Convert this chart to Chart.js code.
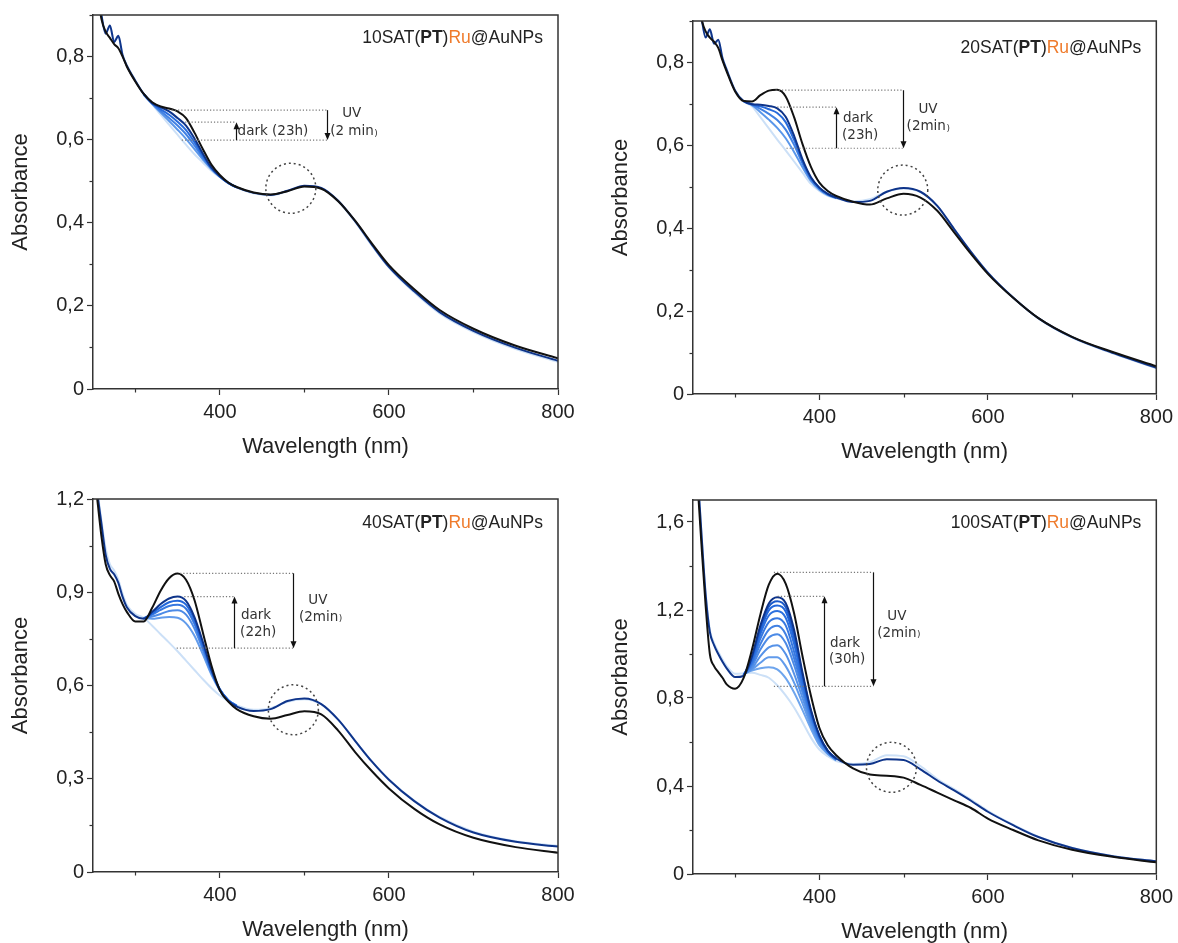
<!DOCTYPE html>
<html>
<head>
<meta charset="utf-8">
<script src="https://cdn.jsdelivr.net/npm/chart.js@4.4.1/dist/chart.umd.min.js"></script>
<style>
  html, body { margin: 0; padding: 0; background: #fff; }
  #wrap { position: relative; width: 1178px; height: 943px; }
  canvas { position: absolute; }
</style>
</head>
<body>
<div id="wrap">
  <canvas id="c10" width="589" height="470" style="left:0;top:0"></canvas>
  <canvas id="c20" width="589" height="470" style="left:589px;top:0"></canvas>
  <canvas id="c40" width="589" height="473" style="left:0;top:470px"></canvas>
  <canvas id="c100" width="589" height="473" style="left:589px;top:470px"></canvas>
</div>
<script>
// wavelength grids (nm)
const wavelengths = [255, 260, 265, 270, 275, 280, 285, 290, 300, 310, 320, 330, 340, 350, 360, 370, 380, 390, 400, 410, 420, 440, 460, 480, 500, 520, 540, 560, 580, 600, 630, 660, 700, 750, 800];
const midWavelengths = [310, 320, 330, 340, 350, 360, 370, 380, 390, 400, 410, 420];

// 10SAT(PT)Ru@AuNPs
const sat10Black = [0.96, 0.89, 0.86, 0.845, 0.83, 0.82, 0.80, 0.776, 0.74, 0.71, 0.69, 0.68, 0.675, 0.668, 0.652, 0.617, 0.577, 0.54, 0.515, 0.497, 0.486, 0.473, 0.468, 0.476, 0.487, 0.482, 0.452, 0.405, 0.35, 0.298, 0.24, 0.19, 0.145, 0.104, 0.074];
const sat10Dark = [0.97, 0.9, 0.855, 0.875, 0.835, 0.85, 0.803, 0.778, 0.742, 0.71, 0.688, 0.678, 0.668, 0.652, 0.634, 0.603, 0.566, 0.533, 0.512, 0.496, 0.485, 0.472, 0.467, 0.477, 0.489, 0.484, 0.453, 0.404, 0.347, 0.294, 0.235, 0.185, 0.14, 0.099, 0.068];
const sat10Light = [0.97, 0.9, 0.86, 0.87, 0.84, 0.845, 0.805, 0.78, 0.743, 0.708, 0.685, 0.66, 0.636, 0.612, 0.588, 0.565, 0.545, 0.525, 0.51, 0.495, 0.485, 0.471, 0.466, 0.476, 0.488, 0.483, 0.452, 0.402, 0.345, 0.292, 0.232, 0.182, 0.137, 0.096, 0.065];
const sat10Recovery = [
  [0.708, 0.686, 0.665, 0.645, 0.624, 0.602, 0.577, 0.552, 0.529, 0.511, 0.496, 0.485],
  [0.709, 0.687, 0.669, 0.652, 0.634, 0.613, 0.586, 0.557, 0.531, 0.511, 0.496, 0.485],
  [0.71, 0.688, 0.673, 0.66, 0.643, 0.623, 0.594, 0.561, 0.532, 0.512, 0.496, 0.485]
];

// 20SAT(PT)Ru@AuNPs
const sat20Black = [0.97, 0.905, 0.875, 0.86, 0.85, 0.835, 0.805, 0.778, 0.73, 0.707, 0.706, 0.721, 0.732, 0.734, 0.718, 0.668, 0.603, 0.548, 0.51, 0.49, 0.478, 0.464, 0.457, 0.472, 0.483, 0.474, 0.442, 0.39, 0.338, 0.29, 0.232, 0.183, 0.138, 0.1, 0.067];
const sat20Dark = [0.98, 0.91, 0.86, 0.88, 0.845, 0.855, 0.81, 0.782, 0.732, 0.707, 0.699, 0.698, 0.695, 0.689, 0.669, 0.623, 0.566, 0.523, 0.498, 0.483, 0.474, 0.463, 0.466, 0.488, 0.497, 0.488, 0.454, 0.398, 0.343, 0.293, 0.233, 0.183, 0.137, 0.098, 0.063];
const sat20Light = [0.98, 0.91, 0.865, 0.875, 0.85, 0.85, 0.812, 0.784, 0.733, 0.706, 0.694, 0.668, 0.641, 0.614, 0.588, 0.561, 0.534, 0.507, 0.49, 0.478, 0.472, 0.465, 0.47, 0.488, 0.496, 0.487, 0.453, 0.397, 0.342, 0.292, 0.232, 0.182, 0.136, 0.097, 0.062];
const sat20Recovery = [
  [0.706, 0.697, 0.68, 0.662, 0.642, 0.617, 0.584, 0.547, 0.514, 0.493, 0.48, 0.473],
  [0.707, 0.698, 0.688, 0.676, 0.661, 0.638, 0.601, 0.556, 0.518, 0.495, 0.481, 0.473],
  [0.707, 0.699, 0.694, 0.687, 0.678, 0.656, 0.613, 0.561, 0.521, 0.497, 0.482, 0.474]
];

// 40SAT(PT)Ru@AuNPs
const sat40Black = [1.2, 1.08, 0.99, 0.955, 0.935, 0.895, 0.862, 0.837, 0.806, 0.806, 0.85, 0.905, 0.945, 0.96, 0.94, 0.875, 0.77, 0.665, 0.585, 0.548, 0.524, 0.501, 0.493, 0.505, 0.517, 0.507, 0.455, 0.386, 0.324, 0.269, 0.203, 0.153, 0.11, 0.08, 0.062];
const sat40Dark = [1.22, 1.12, 1.02, 0.975, 0.958, 0.93, 0.885, 0.852, 0.823, 0.815, 0.837, 0.862, 0.88, 0.886, 0.872, 0.82, 0.74, 0.652, 0.585, 0.55, 0.532, 0.518, 0.524, 0.55, 0.558, 0.54, 0.49, 0.422, 0.355, 0.297, 0.228, 0.175, 0.127, 0.097, 0.082];
const sat40Light = [1.23, 1.13, 1.04, 0.99, 0.97, 0.94, 0.895, 0.86, 0.83, 0.818, 0.792, 0.765, 0.738, 0.71, 0.68, 0.65, 0.62, 0.592, 0.568, 0.55, 0.536, 0.522, 0.527, 0.548, 0.556, 0.539, 0.49, 0.422, 0.355, 0.298, 0.23, 0.177, 0.13, 0.099, 0.084];
const sat40Recovery = [
  [0.817, 0.815, 0.818, 0.82, 0.818, 0.8, 0.76, 0.7, 0.635, 0.585, 0.552, 0.534],
  [0.817, 0.822, 0.83, 0.84, 0.842, 0.828, 0.783, 0.714, 0.642, 0.587, 0.553, 0.534],
  [0.816, 0.828, 0.843, 0.856, 0.86, 0.847, 0.798, 0.723, 0.647, 0.588, 0.553, 0.534],
  [0.816, 0.832, 0.852, 0.868, 0.873, 0.86, 0.81, 0.73, 0.651, 0.588, 0.553, 0.534]
];

// 100SAT(PT)Ru@AuNPs
const sat100Black = [1.8, 1.5, 1.22, 1.0, 0.945, 0.918, 0.892, 0.862, 0.842, 0.89, 1.02, 1.18, 1.315, 1.365, 1.32, 1.185, 0.99, 0.81, 0.665, 0.585, 0.54, 0.48, 0.452, 0.447, 0.438, 0.405, 0.37, 0.335, 0.3, 0.252, 0.2, 0.153, 0.11, 0.077, 0.053];
const sat100Dark = [1.85, 1.55, 1.27, 1.1, 1.04, 1.0, 0.965, 0.935, 0.895, 0.9, 0.99, 1.13, 1.23, 1.258, 1.232, 1.11, 0.915, 0.745, 0.63, 0.56, 0.525, 0.497, 0.5, 0.522, 0.518, 0.476, 0.425, 0.38, 0.333, 0.283, 0.222, 0.168, 0.118, 0.08, 0.058];
const sat100Light = [1.85, 1.55, 1.28, 1.11, 1.05, 1.01, 0.975, 0.945, 0.91, 0.912, 0.915, 0.905, 0.892, 0.858, 0.812, 0.757, 0.69, 0.62, 0.566, 0.535, 0.513, 0.5, 0.508, 0.54, 0.535, 0.49, 0.432, 0.386, 0.338, 0.287, 0.224, 0.17, 0.12, 0.081, 0.058];
const sat100Recovery = [
  [0.91, 0.925, 0.935, 0.94, 0.93, 0.89, 0.825, 0.745, 0.66, 0.585, 0.545, 0.516],
  [0.908, 0.93, 0.96, 0.985, 0.985, 0.945, 0.87, 0.775, 0.675, 0.595, 0.548, 0.518],
  [0.907, 0.935, 0.99, 1.03, 1.04, 1.0, 0.91, 0.8, 0.69, 0.603, 0.55, 0.519],
  [0.906, 0.945, 1.02, 1.075, 1.09, 1.05, 0.95, 0.825, 0.703, 0.61, 0.553, 0.52],
  [0.905, 0.955, 1.045, 1.11, 1.128, 1.09, 0.98, 0.845, 0.714, 0.615, 0.555, 0.521],
  [0.904, 0.962, 1.07, 1.145, 1.163, 1.13, 1.01, 0.86, 0.722, 0.62, 0.557, 0.522],
  [0.903, 0.97, 1.09, 1.175, 1.195, 1.165, 1.045, 0.878, 0.73, 0.623, 0.558, 0.523],
  [0.902, 0.978, 1.105, 1.198, 1.22, 1.193, 1.07, 0.893, 0.736, 0.626, 0.559, 0.524],
  [0.901, 0.985, 1.118, 1.215, 1.24, 1.213, 1.09, 0.905, 0.741, 0.628, 0.56, 0.524]
];

// annotation marks, in data units (nm, absorbance)
const ann10 = {
  lines: [[343, 527, 0.671], [359, 419, 0.642], [355, 527, 0.599]],
  arrows: [[419, 0.599, 0.642], [527, 0.671, 0.599]],
  texts: [
    { t: 'dark (23h)', x: 421, y: 0.619, align: 'left' },
    { t: 'UV', x: 556, y: 0.663, align: 'center' },
    { t: '(2 min', x: 530.5, y: 0.619, align: 'left', paren: true }
  ],
  circle: [484, 0.483]
};
const ann20 = {
  lines: [[348, 499, 0.733], [350, 420, 0.692], [361, 499, 0.593]],
  arrows: [[420, 0.593, 0.692], [499, 0.733, 0.593]],
  texts: [
    { t: 'dark', x: 428, y: 0.665, align: 'left' },
    { t: '(23h)', x: 427, y: 0.624, align: 'left' },
    { t: 'UV', x: 529, y: 0.686, align: 'center' },
    { t: '(2min', x: 529, y: 0.645, align: 'center', paren: true }
  ],
  circle: [499, 0.492]
};
const ann40 = {
  lines: [[353, 486.5, 0.961], [358, 417, 0.886], [349, 486.5, 0.72]],
  arrows: [[417, 0.72, 0.886], [486.5, 0.961, 0.72]],
  texts: [
    { t: 'dark', x: 425, y: 0.825, align: 'left' },
    { t: '(22h)', x: 424, y: 0.772, align: 'left' },
    { t: 'UV', x: 516, y: 0.873, align: 'center' },
    { t: '(2min', x: 519, y: 0.82, align: 'center', paren: true }
  ],
  circle: [487, 0.522]
};
const ann100 = {
  lines: [[346, 464, 1.371], [350.5, 406, 1.262], [346, 464, 0.853]],
  arrows: [[406, 0.853, 1.262], [464, 1.371, 0.853]],
  texts: [
    { t: 'dark', x: 412.5, y: 1.05, align: 'left' },
    { t: '(30h)', x: 411.5, y: 0.974, align: 'left' },
    { t: 'UV', x: 492, y: 1.171, align: 'center' },
    { t: '(2min', x: 494, y: 1.095, align: 'center', paren: true }
  ],
  circle: [485.6, 0.485]
};

const AXIS_COLOR = '#333';
const TEXT_COLOR = '#222';
const SANS = '"Liberation Sans", Arial, sans-serif';

function blueShade(t) {
  // 0 = palest, 1 = deepest navy
  const stops = [
    [0, [204, 224, 247]],
    [0.4, [100, 158, 236]],
    [0.8, [30, 100, 218]],
    [1, [14, 52, 138]]
  ];
  let k = 0;
  while (k < stops.length - 2 && t > stops[k + 1][0]) k++;
  const [t0, a] = stops[k], [t1, b] = stops[k + 1];
  const f = (t - t0) / (t1 - t0);
  const c = a.map((v, i) => Math.round(v + (b[i] - v) * f));
  return 'rgb(' + c.join(',') + ')';
}

function toPoints(xs, ys) {
  return xs.map((x, i) => ({ x: x, y: ys[i] }));
}

function isMajor(v, step) {
  const q = v / step;
  return Math.abs(q - Math.round(q)) < 1e-6;
}

function fmtComma(v) {
  if (Math.abs(v) < 1e-9) return '0';
  return v.toFixed(1).replace('.', ',');
}

function drawArrowHead(ctx, x, y, dir) {
  ctx.beginPath();
  ctx.moveTo(x, y);
  ctx.lineTo(x - 3, y - dir * 7);
  ctx.lineTo(x + 3, y - dir * 7);
  ctx.closePath();
  ctx.fill();
}

function makeDecor(p) {
  return {
    id: 'decor',
    afterDraw(chart) {
      const ctx = chart.ctx;
      const a = chart.chartArea;
      const xs = chart.scales.x, ys = chart.scales.y;
      ctx.save();

      // top and right side of the frame
      ctx.strokeStyle = AXIS_COLOR;
      ctx.lineWidth = 1.5;
      ctx.beginPath();
      ctx.moveTo(a.left, a.top);
      ctx.lineTo(a.right, a.top);
      ctx.lineTo(a.right, a.bottom);
      ctx.stroke();

      // minor ticks (short)
      ctx.lineWidth = 1.2;
      ys.ticks.forEach(tk => {
        if (isMajor(tk.value, p.yMajor)) return;
        const py = Math.round(ys.getPixelForValue(tk.value)) + 0.5;
        ctx.beginPath(); ctx.moveTo(a.left - 3.5, py); ctx.lineTo(a.left, py); ctx.stroke();
      });
      xs.ticks.forEach(tk => {
        if (isMajor(tk.value, 200)) return;
        const px = Math.round(xs.getPixelForValue(tk.value)) + 0.5;
        ctx.beginPath(); ctx.moveTo(px, a.bottom); ctx.lineTo(px, a.bottom + 3.5); ctx.stroke();
      });

      const ann = p.ann;
      // dotted guide lines
      ctx.strokeStyle = '#777';
      ctx.lineWidth = 1.2;
      ctx.setLineDash([1.2, 2]);
      ann.lines.forEach(l => {
        const py = ys.getPixelForValue(l[2]);
        ctx.beginPath();
        ctx.moveTo(xs.getPixelForValue(l[0]), py);
        ctx.lineTo(xs.getPixelForValue(l[1]), py);
        ctx.stroke();
      });

      // dotted circle
      ctx.strokeStyle = '#444';
      ctx.lineWidth = 1.5;
      ctx.setLineDash([2, 3]);
      ctx.beginPath();
      ctx.arc(xs.getPixelForValue(ann.circle[0]), ys.getPixelForValue(ann.circle[1]), 25, 0, Math.PI * 2);
      ctx.stroke();
      ctx.setLineDash([]);

      // arrows
      ctx.strokeStyle = '#111';
      ctx.fillStyle = '#111';
      ctx.lineWidth = 1.2;
      ann.arrows.forEach(ar => {
        const px = Math.round(xs.getPixelForValue(ar[0])) + 0.5;
        const y1 = ys.getPixelForValue(ar[1]);
        const y2 = ys.getPixelForValue(ar[2]);
        const dir = y2 > y1 ? 1 : -1;
        ctx.beginPath(); ctx.moveTo(px, y1); ctx.lineTo(px, y2 - dir * 5); ctx.stroke();
        drawArrowHead(ctx, px, y2, dir);
      });

      // annotation text
      ctx.fillStyle = '#333';
      ctx.textBaseline = 'middle';
      const mainFont = '13.5px "DejaVu Sans", sans-serif';
      const smallFont = '9px "DejaVu Sans", sans-serif';
      ann.texts.forEach(tx => {
        ctx.font = mainFont;
        const w1 = ctx.measureText(tx.t).width;
        ctx.font = smallFont;
        const w2 = tx.paren ? ctx.measureText(')').width : 0;
        let x0 = xs.getPixelForValue(tx.x);
        if (tx.align === 'center') x0 -= (w1 + w2) / 2;
        const py = ys.getPixelForValue(tx.y);
        ctx.textAlign = 'left';
        ctx.font = mainFont;
        ctx.fillText(tx.t, x0, py);
        if (tx.paren) {
          ctx.font = smallFont;
          ctx.fillText(')', x0 + w1 + 0.5, py + 2);
        }
      });

      // sample name, right aligned in the top corner
      const segs = [
        { t: p.label + 'SAT(', w: 'normal', c: TEXT_COLOR },
        { t: 'PT', w: 'bold', c: TEXT_COLOR },
        { t: ')', w: 'normal', c: TEXT_COLOR },
        { t: 'Ru', w: 'normal', c: '#ef7b2c' },
        { t: '@AuNPs', w: 'normal', c: TEXT_COLOR }
      ];
      let total = 0;
      segs.forEach(s => { ctx.font = s.w + ' 17.5px ' + SANS; s.width = ctx.measureText(s.t).width; total += s.width; });
      let tx0 = a.right - 15 - total;
      segs.forEach(s => {
        ctx.font = s.w + ' 17.5px ' + SANS;
        ctx.fillStyle = s.c;
        ctx.fillText(s.t, tx0, a.top + p.titleDy);
        tx0 += s.width;
      });

      // axis titles
      ctx.fillStyle = TEXT_COLOR;
      ctx.font = '22px ' + SANS;
      ctx.textAlign = 'center';
      ctx.fillText('Wavelength (nm)', (a.left + a.right) / 2, a.bottom + 58);
      ctx.translate(a.left - 72, (a.top + a.bottom) / 2 - 10);
      ctx.rotate(-Math.PI / 2);
      ctx.fillText('Absorbance', 0, 0);

      ctx.restore();
    }
  };
}

const panels = [
  { id: 'c10', label: '10', black: sat10Black, dark: sat10Dark, light: sat10Light, mids: sat10Recovery,
    yMax: 0.9, yStep: 0.1, yMajor: 0.2, ann: ann10, titleDy: 23,
    yWidth: 93, xHeight: 81, padTop: 15, padRight: 31 },
  { id: 'c20', label: '20', black: sat20Black, dark: sat20Dark, light: sat20Light, mids: sat20Recovery,
    yMax: 0.9, yStep: 0.1, yMajor: 0.2, ann: ann20, titleDy: 27,
    yWidth: 104, xHeight: 76, padTop: 21, padRight: 20 },
  { id: 'c40', label: '40', black: sat40Black, dark: sat40Dark, light: sat40Light, mids: sat40Recovery,
    yMax: 1.2, yStep: 0.15, yMajor: 0.3, ann: ann40, titleDy: 24,
    yWidth: 93, xHeight: 71, padTop: 29, padRight: 31 },
  { id: 'c100', label: '100', black: sat100Black, dark: sat100Dark, light: sat100Light, mids: sat100Recovery,
    yMax: 1.7, yStep: 0.2, yMajor: 0.4, ann: ann100, titleDy: 23,
    yWidth: 104, xHeight: 69, padTop: 30, padRight: 20 }
];

function lineSet(points, color) {
  return {
    data: points,
    borderColor: color,
    borderWidth: 2,
    pointRadius: 0,
    fill: false,
    cubicInterpolationMode: 'monotone'
  };
}

panels.forEach(p => {
  const n = p.mids.length;
  // first dataset is painted last (on top)
  const datasets = [
    lineSet(toPoints(wavelengths, p.black), '#111111'),
    lineSet(toPoints(wavelengths, p.dark), blueShade(1))
  ];
  for (let i = n - 1; i >= 0; i--) {
    datasets.push(lineSet(toPoints(midWavelengths, p.mids[i]), blueShade(0.3 + 0.6 * (i + 1) / (n + 1))));
  }
  datasets.push(lineSet(toPoints(wavelengths, p.light), blueShade(0)));

  new Chart(document.getElementById(p.id), {
    type: 'line',
    data: { datasets: datasets },
    options: {
      responsive: false,
      animation: false,
      events: [],
      layout: { padding: { top: p.padTop, right: p.padRight, left: 0, bottom: 0 } },
      plugins: { legend: { display: false }, tooltip: { enabled: false } },
      scales: {
        x: {
          type: 'linear',
          min: 250,
          max: 800,
          afterFit: s => { s.height = p.xHeight; },
          border: { display: true, color: AXIS_COLOR, width: 1.5 },
          grid: {
            drawOnChartArea: false,
            tickLength: 6,
            tickWidth: 1.2,
            tickColor: c => isMajor(c.tick.value, 200) ? AXIS_COLOR : 'rgba(0,0,0,0)'
          },
          ticks: {
            stepSize: 100,
            includeBounds: false,
            autoSkip: false,
            maxRotation: 0,
            padding: 5,
            color: TEXT_COLOR,
            font: { family: SANS, size: 20 },
            callback: v => isMajor(v, 200) ? String(v) : ''
          }
        },
        y: {
          type: 'linear',
          min: 0,
          max: p.yMax,
          afterFit: s => { s.width = p.yWidth; },
          border: { display: true, color: AXIS_COLOR, width: 1.5 },
          grid: {
            drawOnChartArea: false,
            tickLength: 6,
            tickWidth: 1.2,
            tickColor: c => isMajor(c.tick.value, p.yMajor) ? AXIS_COLOR : 'rgba(0,0,0,0)'
          },
          ticks: {
            stepSize: p.yStep,
            includeBounds: false,
            autoSkip: false,
            padding: 3,
            color: TEXT_COLOR,
            font: { family: SANS, size: 20 },
            callback: v => isMajor(v, p.yMajor) ? fmtComma(v) : ''
          }
        }
      }
    },
    plugins: [makeDecor(p)]
  });
});
</script>
</body>
</html>
